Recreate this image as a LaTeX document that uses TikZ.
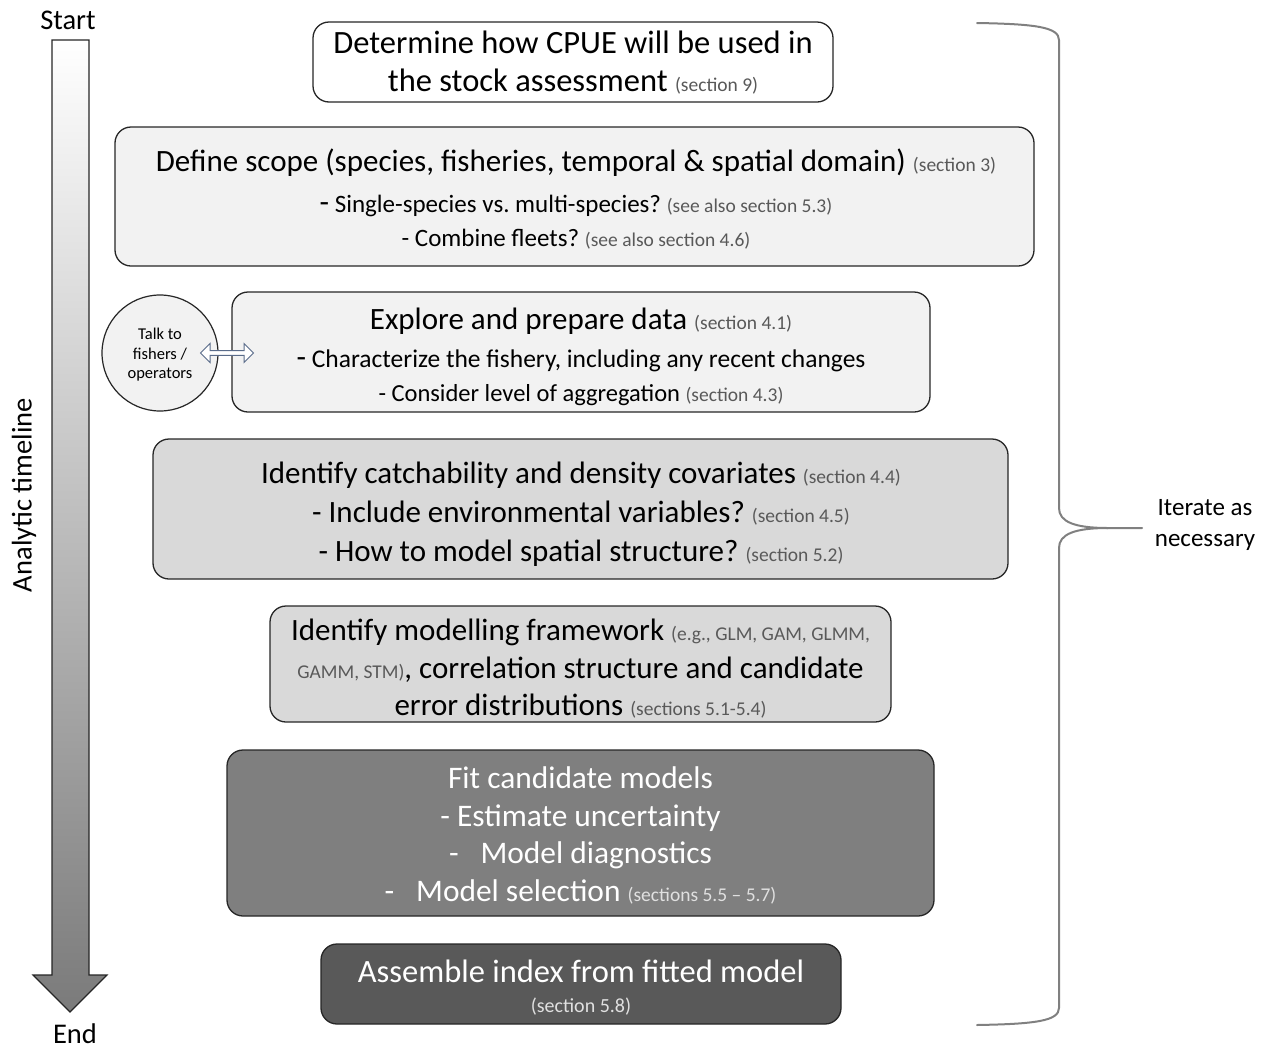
\documentclass[tikz,border=0pt]{standalone}
\usepackage{fontspec}
\setmainfont{Carlito}
\usetikzlibrary{shapes.arrows}
\definecolor{lgray}{HTML}{F2F2F2}
\definecolor{mgray}{HTML}{D9D9D9}
\definecolor{dgray}{HTML}{7F7F7F}
\definecolor{vgray}{HTML}{595959}
\definecolor{tagcol}{HTML}{595959}
\definecolor{arrowblue}{RGB}{90,108,138}
\newcommand{\tg}[1]{{\fontsize{19.5}{22}\selectfont\color{tagcol}#1}}
\newcommand{\tgw}[1]{{\fontsize{19.5}{22}\selectfont\color{black!12}#1}}
\newcommand{\bigdash}{{\fontsize{31}{31}\selectfont -}}
\frenchspacing
\begin{document}
\begin{tikzpicture}[x=1pt,y=-1pt,
  stepbox/.style={draw=black!85, line width=1.3pt, rounded corners=16pt, inner sep=0pt},
  steptext/.style={align=center, inner sep=0pt},
  bracecol/.style={draw=black!50, line width=2pt}]
\useasboundingbox (0,0) rectangle (1262,1050);

% timeline arrow
\draw[top color=white, bottom color=black!52, draw=black!85, line width=1.2pt]
  (52,40) -- (89,40) -- (89,975) -- (107,975) -- (70,1012) -- (33,975) -- (52,975) -- cycle;
\node[inner sep=0pt, font=\fontsize{28.5}{30}\selectfont] (start) at (68,20) {Start};
\node[inner sep=0pt, font=\fontsize{28.5}{30}\selectfont] (end) at (75,1034) {End};
\node[inner sep=0pt, rotate=90, font=\fontsize{28.5}{30}\selectfont] (timeline) at (24,495) {Analytic timeline};

% box 1
\node[stepbox, fill=white, minimum width=520pt, minimum height=80pt] (b1) at (573,62) {};
\node[steptext, font=\fontsize{32.5}{38}\selectfont] (t1) at (573,62.5) {Determine how CPUE will be used in\\the stock assessment \tg{(section 9)}};

% box 2
\node[stepbox, fill=lgray, minimum width=919pt, minimum height=139pt] (b2) at (574.5,196.5) {};
\node[steptext, font=\fontsize{31}{34}\selectfont] (t2) at (576,199.5) {Define scope (species, fisheries, temporal \& spatial domain) \tg{(section 3)}\\[7pt]
{\fontsize{25}{30}\selectfont \bigdash{} Single-species vs. multi-species? \tg{(see also section 5.3)}}\\
{\fontsize{25}{30}\selectfont - Combine fleets? \tg{(see also section 4.6)}}};

% talk to fishers
\node[circle, draw=black!85, line width=1.2pt, fill=lgray, minimum size=116pt, inner sep=0pt] (talk) at (160,353) {};
\node[steptext, font=\fontsize{16.5}{19.5}\selectfont] (talktext) at (160,355) {Talk to\\fishers /\\operators};

% box 3
\node[stepbox, fill=lgray, minimum width=698pt, minimum height=120pt] (b3) at (581,352) {};
\node[steptext, font=\fontsize{31}{34}\selectfont] (t3) at (581,356.5) {Explore and prepare data \tg{(section 4.1)}\\[4pt]
{\fontsize{25.5}{34}\selectfont \bigdash{} Characterize the fishery, including any recent changes}\\
{\fontsize{24.5}{34}\selectfont - Consider level of aggregation \tg{(section 4.3)}}};

% double arrow between circle and box 3
\node[double arrow, draw=arrowblue, line width=1pt, fill=white, minimum width=19pt, minimum height=53pt, double arrow head extend=4.5pt, inner sep=1pt] (dbl) at (227,353) {};

% box 4
\node[stepbox, fill=mgray, minimum width=855pt, minimum height=140pt] (b4) at (580.5,509) {};
\node[steptext, font=\fontsize{31}{39}\selectfont] (t4) at (581,514) {Identify catchability and density covariates \tg{(section 4.4)}\\
- Include environmental variables? \tg{(section 4.5)}\\
- How to model spatial structure? \tg{(section 5.2)}};

% box 5
\node[stepbox, fill=mgray, minimum width=621pt, minimum height=116pt] (b5) at (580.5,664) {};
\node[steptext, font=\fontsize{31}{37.5}\selectfont] (t5) at (580.5,669) {Identify modelling framework \tg{(e.g., GLM, GAM, GLMM,}\\
\tg{GAMM, STM)}, correlation structure and candidate\\
error distributions \tg{(sections 5.1-5.4)}};

% box 6
\node[stepbox, fill=dgray, minimum width=707pt, minimum height=166pt] (b6) at (580.5,833) {};
\node[steptext, text=white, font=\fontsize{31.4}{37.7}\selectfont] (t6) at (580.5,835.5) {Fit candidate models\\
- Estimate uncertainty\\
-\hspace{22pt}Model diagnostics\\
-\hspace{22pt}Model selection \tgw{(sections 5.5 -- 5.7)}};

% box 7
\node[stepbox, fill=vgray, minimum width=520pt, minimum height=80pt] (b7) at (581,984) {};
\node[steptext, text=white, font=\fontsize{32.5}{30}\selectfont] (t7) at (581,988) {Assemble index from fitted model\\
{\fontsize{20}{22}\selectfont\color{black!12}(section 5.8)}};

% brace
\coordinate (bTop) at (977,23);
\coordinate (bTip) at (1142,528);
\coordinate (bBot) at (977,1025);
\draw[bracecol, line cap=round]
  (bTop) .. controls (1035,24) and (1059,27) .. (1059,40)
  -- (1059,508) .. controls (1059,522) and (1075,528) .. (1108,528) -- (bTip);
\draw[bracecol, line cap=round]
  (bBot) .. controls (1035,1024) and (1059,1021) .. (1059,1008)
  -- (1059,548) .. controls (1059,534) and (1075,528) .. (1108,528);
\node[steptext, font=\fontsize{25}{31}\selectfont] (iterate) at (1205,525) {Iterate as\\necessary};
\end{tikzpicture}
\end{document}
